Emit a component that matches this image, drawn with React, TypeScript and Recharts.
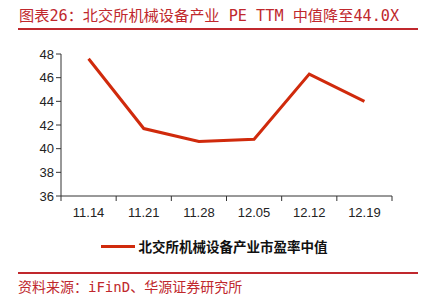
import React from "react";
import { LineChart, Line, XAxis, YAxis, Legend } from "recharts";

const dates = ["11.14", "11.21", "11.28", "12.05", "12.12", "12.19"];
const peMedian = [47.6, 41.7, 40.6, 40.8, 46.3, 44.0];
const yTicks = [36, 38, 40, 42, 44, 46, 48];

const seriesName = "北交所机械设备产业市盈率中值";
const title = "图表26：北交所机械设备产业 PE TTM 中值降至44.0X";
const source = "资料来源：iFinD、华源证券研究所";

const RED = "#c0282d";
const LINE_RED = "#d02a0c";
const AXIS = "#333";

const data = dates.map((d, i) => ({ date: d, pe: peMedian[i] }));

const BandTick = (props: any) => {
  const { x, y, payload, index } = props;
  const half = payload.offset || 0;
  const last = index === dates.length - 1;
  return (
    <g>
      <line x1={x - half} x2={x - half} y1={y - 8} y2={y - 3} stroke={AXIS} />
      {last && <line x1={x + half} x2={x + half} y1={y - 8} y2={y - 3} stroke={AXIS} />}
      <text x={x} y={y + 13} textAnchor="middle" fontSize={13} fill="#222" fontFamily="Liberation Sans, Arial, sans-serif">
        {payload.value}
      </text>
    </g>
  );
};

const LegendContent = () => (
  <div style={{ display: "flex", alignItems: "center", justifyContent: "center", marginLeft: 36 }}>
    <div style={{ width: 34, height: 3, background: LINE_RED, marginRight: 4 }} />
    <span style={{ fontSize: 13.5, fontWeight: 600, color: "#111", fontFamily: "Noto Sans CJK SC, sans-serif" }}>
      {seriesName}
    </span>
  </div>
);

export default function App() {
  return (
    <div style={{ position: "absolute", left: 0, top: 0, width: 422, height: 300, background: "#fff" }}>
      <div
        style={{
          position: "absolute",
          left: 19,
          top: 6,
          fontSize: 15.2,
          lineHeight: "20px",
          color: RED,
          whiteSpace: "nowrap",
          fontFamily: "DejaVu Sans Mono, Noto Sans CJK SC, monospace",
        }}
      >
        {title}
      </div>
      <div style={{ position: "absolute", left: 18, top: 28, width: 400, height: 1.5, background: RED }} />
      <div style={{ position: "absolute", left: 0, top: 0 }}>
        <LineChart width={422} height={300} data={data} margin={{ top: 54, right: 30, bottom: 54, left: 0 }}>
          <XAxis
            dataKey="date"
            scale="band"
            height={30}
            axisLine={{ stroke: AXIS }}
            tickLine={false}
            tick={<BandTick />}
            interval={0}
          />
          <YAxis
            domain={[36, 48]}
            ticks={yTicks}
            width={61}
            axisLine={{ stroke: AXIS }}
            tickLine={{ stroke: AXIS }}
            tickSize={5}
            tick={{ fontSize: 13, fill: "#222", fontFamily: "Liberation Sans, Arial, sans-serif" }}
            interval={0}
          />
          <Legend verticalAlign="bottom" content={<LegendContent />} wrapperStyle={{ bottom: 44 }} />
          <Line
            dataKey="pe"
            name={seriesName}
            type="linear"
            stroke={LINE_RED}
            strokeWidth={3}
            dot={false}
            isAnimationActive={false}
          />
        </LineChart>
      </div>
      <div style={{ position: "absolute", left: 18, top: 272, width: 400, height: 1.5, background: RED }} />
      <div
        style={{
          position: "absolute",
          left: 18,
          top: 278,
          fontSize: 14,
          lineHeight: "18px",
          color: RED,
          whiteSpace: "nowrap",
          fontFamily: "DejaVu Sans Mono, Noto Sans CJK SC, monospace",
        }}
      >
        {source}
      </div>
    </div>
  );
}
